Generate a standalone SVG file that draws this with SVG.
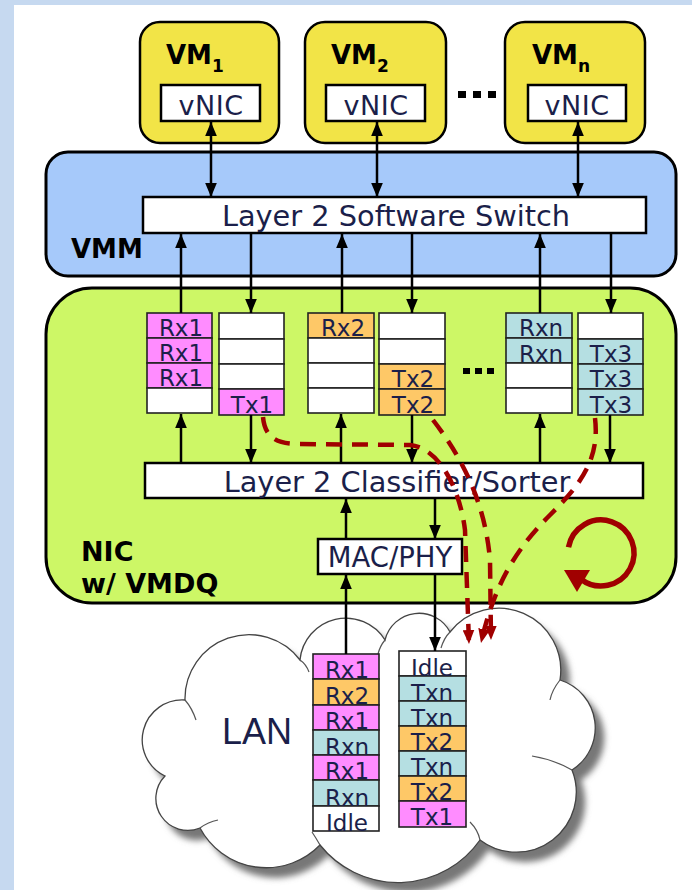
<svg xmlns="http://www.w3.org/2000/svg" width="692" height="890" viewBox="0 0 692 890">
<defs>
<style>
.box{stroke:#000;stroke-width:2.5}
.big{stroke:#000;stroke-width:3}
.q{stroke:#222;stroke-width:1.6}
.pk{fill:#ff8cff}.or{fill:#fec867}.tl{fill:#b5dfe2}.wh{fill:#fff}
.t{font-family:"DejaVu Sans",Verdana,sans-serif;fill:#1b1f4a}
.qt{font-size:23px;text-anchor:middle}
.b{font-family:"DejaVu Sans",Verdana,sans-serif;font-weight:bold;fill:#000}
.ln{stroke:#000;stroke-width:2.5;fill:none}
.rd{stroke:#a00000;stroke-width:4.5;fill:none;stroke-dasharray:16 10}
.cl{fill:none;stroke:#555;stroke-width:1.2}
</style>
<marker id="ah" viewBox="0 0 12 10" refX="12" refY="5" markerWidth="14" markerHeight="12" markerUnits="userSpaceOnUse" orient="auto-start-reverse"><path d="M0,0 L12,5 L0,10 z" fill="#000"/></marker>
<marker id="rh" viewBox="0 0 12 10" refX="12" refY="5" markerWidth="14" markerHeight="12" markerUnits="userSpaceOnUse" orient="auto"><path d="M0,0 L12,5 L0,10 z" fill="#a00000"/></marker>
<filter id="blur" x="-10%" y="-10%" width="120%" height="120%"><feGaussianBlur stdDeviation="3"/></filter>
<path id="cloudShape" d="M 165 776 A 40 40 0 0 1 185 700 A 64 64 0 0 1 300 660 A 46 46 0 0 1 385 640 A 35 35 0 0 1 450 632 A 62 62 0 0 1 560 680 A 50 50 0 0 1 572 770 A 60 60 0 0 1 480 840 A 100 100 0 0 1 320 845 A 75 75 0 0 1 200 828 A 32 32 0 0 1 165 776 Z"/>
</defs>

<rect x="0" y="0" width="692" height="890" fill="#c6d9f0"/>
<rect x="14" y="5" width="678" height="885" fill="#fff"/>

<!-- LAN cloud -->
<g id="lan">
<use href="#cloudShape" fill="#777" transform="translate(9,10)" filter="url(#blur)"/>
<use href="#cloudShape" fill="#fff" stroke="#444" stroke-width="1.3"/>
<path class="cl" d="M 185 700 Q 192 708 196 720"/>
<path class="cl" d="M 300 660 Q 306 664 309 672"/>
<path class="cl" d="M 385 640 Q 380 646 378 654"/>
<path class="cl" d="M 450 632 Q 444 638 441 648"/>
<path class="cl" d="M 560 680 Q 552 690 550 700"/>
<path class="cl" d="M 572 770 Q 555 760 532 756"/>
<path class="cl" d="M 480 840 Q 478 830 470 822"/>
<path class="cl" d="M 320 845 Q 316 838 312 832"/>
<path class="cl" d="M 200 828 Q 208 822 218 820"/>
<text x="222" y="744" font-family="'Liberation Sans',Arial,sans-serif" font-size="36" fill="#1b1f4a">LAN</text>
</g>

<!-- VM boxes -->
<g id="vm1">
<rect class="box" x="140" y="22" width="139" height="121" rx="20" fill="#f2e447"/>
<text class="b" x="166" y="64" font-size="26">VM<tspan font-size="17" dy="8">1</tspan></text>
<rect class="box" x="161" y="85" width="99" height="36" fill="#fff" stroke-width="2"/>
<text class="t" x="211" y="115" font-size="27" text-anchor="middle" letter-spacing="0.5">vNIC</text>
</g>
<g id="vm2">
<rect class="box" x="305" y="22" width="141" height="121" rx="20" fill="#f2e447"/>
<text class="b" x="331" y="64" font-size="26">VM<tspan font-size="17" dy="8">2</tspan></text>
<rect class="box" x="326" y="85" width="99" height="36" fill="#fff" stroke-width="2"/>
<text class="t" x="376" y="115" font-size="27" text-anchor="middle" letter-spacing="0.5">vNIC</text>
</g>
<g id="dots1">
<rect x="458" y="91" width="8" height="7" fill="#000"/>
<rect x="473" y="91" width="8" height="7" fill="#000"/>
<rect x="488" y="91" width="8" height="7" fill="#000"/>
</g>
<g id="vmn">
<rect class="box" x="505" y="22" width="140" height="121" rx="20" fill="#f2e447"/>
<text class="b" x="532" y="64" font-size="26">VM<tspan font-size="17" dy="8">n</tspan></text>
<rect class="box" x="528" y="85" width="98" height="36" fill="#fff" stroke-width="2"/>
<text class="t" x="577" y="115" font-size="27" text-anchor="middle" letter-spacing="0.5">vNIC</text>
</g>

<!-- VMM -->
<g id="vmm">
<rect class="big" x="46" y="152" width="630" height="124" rx="22" fill="#a6c9fa"/>
<text class="b" x="71" y="258" font-size="26">VMM</text>
</g>
<g id="switch">
<rect class="box" x="143" y="197" width="503" height="36" fill="#fff" stroke-width="2"/>
<text class="t" x="396" y="226" font-size="28.8" text-anchor="middle">Layer 2 Software Switch</text>
</g>

<!-- NIC -->
<g id="nic">
<rect class="big" x="46" y="288" width="630" height="315" rx="46" fill="#cdf766"/>
<text class="b" x="81" y="561" font-size="27">NIC</text>
<text class="b" x="81" y="593" font-size="27">w/ VMDQ</text>
</g>

<!-- Queues in NIC -->
<g id="q-rx1">
<rect class="q pk" x="147" y="313" width="65" height="25"/>
<rect class="q pk" x="147" y="338" width="65" height="25"/>
<rect class="q pk" x="147" y="363" width="65" height="25"/>
<rect class="q wh" x="147" y="388" width="65" height="25"/>
<text class="t qt" x="181" y="336">Rx1</text>
<text class="t qt" x="181" y="361">Rx1</text>
<text class="t qt" x="181" y="386">Rx1</text>
</g>
<g id="q-tx1">
<rect class="q wh" x="219" y="313" width="65" height="26"/>
<rect class="q wh" x="219" y="339" width="65" height="25"/>
<rect class="q wh" x="219" y="364" width="65" height="25"/>
<rect class="q pk" x="219" y="389" width="65" height="26"/>
<text class="t qt" x="252" y="413">Tx1</text>
</g>
<g id="q-rx2">
<rect class="q or" x="308" y="313" width="66" height="25"/>
<rect class="q wh" x="308" y="338" width="66" height="25"/>
<rect class="q wh" x="308" y="363" width="66" height="25"/>
<rect class="q wh" x="308" y="388" width="66" height="25"/>
<text class="t qt" x="343" y="336">Rx2</text>
</g>
<g id="q-tx2">
<rect class="q wh" x="379" y="313" width="66" height="26"/>
<rect class="q wh" x="379" y="339" width="66" height="25"/>
<rect class="q or" x="379" y="364" width="66" height="25"/>
<rect class="q or" x="379" y="389" width="66" height="26"/>
<text class="t qt" x="413" y="387">Tx2</text>
<text class="t qt" x="413" y="413">Tx2</text>
</g>
<g id="dots2">
<rect x="463" y="368" width="7" height="6" fill="#000"/>
<rect x="475" y="368" width="7" height="6" fill="#000"/>
<rect x="487" y="368" width="7" height="6" fill="#000"/>
</g>
<g id="q-rxn">
<rect class="q tl" x="506" y="313" width="66" height="25"/>
<rect class="q tl" x="506" y="338" width="66" height="25"/>
<rect class="q wh" x="506" y="363" width="66" height="25"/>
<rect class="q wh" x="506" y="388" width="66" height="25"/>
<text class="t qt" x="541" y="336">Rxn</text>
<text class="t qt" x="541" y="362">Rxn</text>
</g>
<g id="q-tx3">
<rect class="q wh" x="578" y="313" width="65" height="26"/>
<rect class="q tl" x="578" y="339" width="65" height="25"/>
<rect class="q tl" x="578" y="364" width="65" height="25"/>
<rect class="q tl" x="578" y="389" width="65" height="26"/>
<text class="t qt" x="611" y="362">Tx3</text>
<text class="t qt" x="611" y="387">Tx3</text>
<text class="t qt" x="611" y="413">Tx3</text>
</g>

<g id="classifier">
<rect class="box" x="145" y="463" width="498" height="35" fill="#fff" stroke-width="2"/>
<text class="t" x="397" y="492" font-size="28.8" text-anchor="middle">Layer 2 Classifier/Sorter</text>
</g>
<g id="macphy">
<rect class="box" x="318" y="539" width="144" height="35" fill="#fff" stroke-width="2"/>
<text class="t" x="390" y="567" font-size="27.5" text-anchor="middle">MAC/PHY</text>
</g>

<!-- LAN queues -->
<g id="lan-rx">
<rect class="q pk" x="313" y="654" width="66" height="25"/>
<rect class="q or" x="313" y="679" width="66" height="26"/>
<rect class="q pk" x="313" y="705" width="66" height="25"/>
<rect class="q tl" x="313" y="730" width="66" height="25"/>
<rect class="q pk" x="313" y="755" width="66" height="25"/>
<rect class="q tl" x="313" y="780" width="66" height="26"/>
<rect class="q wh" x="313" y="806" width="66" height="25"/>
<text class="t qt" x="347" y="678">Rx1</text>
<text class="t qt" x="347" y="704">Rx2</text>
<text class="t qt" x="347" y="729">Rx1</text>
<text class="t qt" x="347" y="755">Rxn</text>
<text class="t qt" x="347" y="779">Rx1</text>
<text class="t qt" x="347" y="806">Rxn</text>
<text class="t qt" x="347" y="831">Idle</text>
</g>
<g id="lan-tx">
<rect class="q wh" x="399" y="651" width="67" height="25"/>
<rect class="q tl" x="399" y="676" width="67" height="25"/>
<rect class="q tl" x="399" y="701" width="67" height="25"/>
<rect class="q or" x="399" y="726" width="67" height="25"/>
<rect class="q tl" x="399" y="751" width="67" height="25"/>
<rect class="q or" x="399" y="776" width="67" height="25"/>
<rect class="q pk" x="399" y="801" width="67" height="26"/>
<text class="t qt" x="432" y="676">Idle</text>
<text class="t qt" x="432" y="701">Txn</text>
<text class="t qt" x="432" y="726">Txn</text>
<text class="t qt" x="432" y="750">Tx2</text>
<text class="t qt" x="432" y="775">Txn</text>
<text class="t qt" x="432" y="800">Tx2</text>
<text class="t qt" x="432" y="825">Tx1</text>
</g>

<!-- connectors -->
<g id="connectors">
<line class="ln" x1="211" y1="122" x2="211" y2="197" marker-start="url(#ah)" marker-end="url(#ah)"/>
<line class="ln" x1="377" y1="122" x2="377" y2="197" marker-start="url(#ah)" marker-end="url(#ah)"/>
<line class="ln" x1="578" y1="122" x2="578" y2="197" marker-start="url(#ah)" marker-end="url(#ah)"/>

<line class="ln" x1="181" y1="313" x2="181" y2="234" marker-end="url(#ah)"/>
<line class="ln" x1="251" y1="234" x2="251" y2="313" marker-end="url(#ah)"/>
<line class="ln" x1="342" y1="313" x2="342" y2="234" marker-end="url(#ah)"/>
<line class="ln" x1="412" y1="234" x2="412" y2="313" marker-end="url(#ah)"/>
<line class="ln" x1="540" y1="313" x2="540" y2="234" marker-end="url(#ah)"/>
<line class="ln" x1="611" y1="234" x2="611" y2="313" marker-end="url(#ah)"/>

<line class="ln" x1="181" y1="463" x2="181" y2="414" marker-end="url(#ah)"/>
<line class="ln" x1="251" y1="415" x2="251" y2="463" marker-end="url(#ah)"/>
<line class="ln" x1="341" y1="463" x2="341" y2="414" marker-end="url(#ah)"/>
<line class="ln" x1="412" y1="415" x2="412" y2="463" marker-end="url(#ah)"/>
<line class="ln" x1="540" y1="463" x2="540" y2="414" marker-end="url(#ah)"/>
<line class="ln" x1="610" y1="415" x2="610" y2="463" marker-end="url(#ah)"/>

<line class="ln" x1="346" y1="539" x2="346" y2="499" marker-end="url(#ah)"/>
<line class="ln" x1="435" y1="498" x2="435" y2="539" marker-end="url(#ah)"/>

<line class="ln" x1="346" y1="654" x2="346" y2="575" marker-end="url(#ah)"/>
<line class="ln" x1="435" y1="574" x2="435" y2="651" marker-end="url(#ah)"/>

<path class="rd" d="M 263 417 C 265 440 280 444 300 444 L 410 445 C 440 448 460 490 465 530 L 469 644" marker-end="url(#rh)"/>
<path class="rd" d="M 433 420 C 460 455 485 500 490 560 L 491 640" marker-end="url(#rh)"/>
<path class="rd" d="M 595 418 C 600 460 580 485 550 515 C 520 545 495 580 481 643" marker-end="url(#rh)"/>

<path d="M 568.5 547.3 A 33 33 0 1 1 580.7 579" fill="none" stroke="#a00000" stroke-width="5.5"/>
<polygon points="564,570 590,570 577,592" fill="#a00000"/>
</g>
</svg>
